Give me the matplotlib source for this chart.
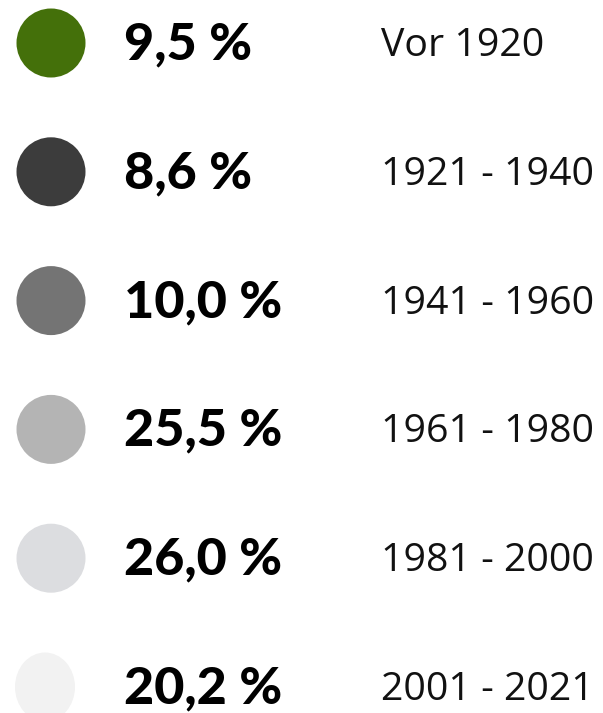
import matplotlib.pyplot as plt
from matplotlib.patches import Ellipse

# Anteil der Gebäude nach Baujahr
anteile = ["9,5 %", "8,6 %", "10,0 %", "25,5 %", "26,0 %", "20,2 %"]
zeitraeume = ["Vor 1920", "1921 - 1940", "1941 - 1960", "1961 - 1980", "1981 - 2000", "2001 - 2021"]
farben = ["#44700a", "#3c3c3c", "#747474", "#b4b4b4", "#dcdde0", "#f2f2f2"]

fig = plt.figure(figsize=(6.03, 7.13), dpi=100)
ax = fig.add_axes([0, 0, 1, 1])
ax.set_xlim(0, 603)
ax.set_ylim(713, 0)
ax.axis("off")

y0 = 43
schritt = 128.8
for i, (a, z, c) in enumerate(zip(anteile, zeitraeume, farben)):
    y = y0 + i * schritt
    breite = 60 if i == len(anteile) - 1 else 69
    ax.add_patch(Ellipse((51 if breite == 69 else 45, y), breite, 69, color=c, lw=0))
    ax.text(124, y + 2, a, fontsize=37.5, fontweight="black", family="Lato",
            va="center", ha="left", color="#000000")
    ax.text(381, y + 3, z, fontsize=28.3, family="Open Sans",
            va="center", ha="left", color="#111111")

fig.savefig("out.png", dpi=100)
